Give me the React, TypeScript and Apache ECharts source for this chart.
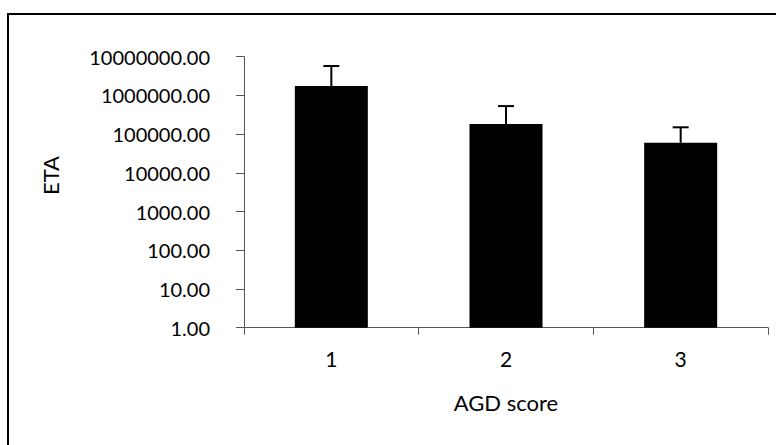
import React, { useEffect, useRef } from "react";
import * as echarts from "echarts";

const categories = ["1", "2", "3"];
const etaMeans = [1750000, 182000, 60000];
const etaErrorTop = [5750000, 530000, 150000];
const yTickLabelDigits = 2;

export default function App() {
  const ref = useRef<HTMLDivElement>(null);
  useEffect(() => {
    if (!ref.current) return;
    const chart = echarts.init(ref.current, null, { renderer: "svg" });
    const font = "Lato";
    const errData = categories.map((_, i) => [i, etaMeans[i], etaErrorTop[i]]);
    chart.setOption({
      animation: false,
      backgroundColor: "#fff",
      textStyle: { fontFamily: font, color: "#000" },
      grid: { left: 244, right: 8, top: 56.7, bottom: 117.3, containLabel: false },
      graphic: [
        {
          type: "rect",
          shape: { x: 8, y: 14, width: 820, height: 520 },
          style: { fill: "none", stroke: "#000", lineWidth: 2 },
          silent: true,
        },
        {
          type: "text",
          x: 50,
          y: 175.5,
          rotation: Math.PI / 2,
          style: {
            text: "ETA",
            font: `22px ${font}`,
            fill: "#000",
            align: "center",
            verticalAlign: "middle",
          },
        },
      ],
      xAxis: {
        type: "category",
        data: categories,
        name: "AGD score",
        nameLocation: "middle",
        nameGap: 64,
        nameTextStyle: { fontFamily: font, fontSize: 22, color: "#000", verticalAlign: "top" },
        axisLine: { lineStyle: { color: "#555", width: 1 } },
        axisTick: { show: true, length: 7, alignWithLabel: false, lineStyle: { color: "#555" } },
        axisLabel: { fontFamily: font, fontSize: 21, color: "#000", margin: 20 },
        splitLine: { show: false },
      },
      yAxis: {
        type: "log",
        logBase: 10,
        min: 1,
        max: 10000000,
        interval: 1,
        axisLine: { show: true, lineStyle: { color: "#555", width: 1 } },
        axisTick: { show: true, length: 8, inside: false, lineStyle: { color: "#555" } },
        axisLabel: {
          fontFamily: font,
          fontSize: 20,
          color: "#000",
          margin: 34,
          padding: [0, 0, 6, 0],
          formatter: (v: number) => Number(v).toFixed(yTickLabelDigits),
        },
        splitLine: { show: false },
        minorTick: { show: false },
      },
      series: [
        {
          type: "bar",
          data: etaMeans,
          barWidth: 73,
          itemStyle: { color: "#000" },
          z: 2,
        },
        {
          type: "custom",
          data: errData,
          encode: { x: 0, y: [1, 2] },
          z: 3,
          renderItem: (params: any, api: any) => {
            const x = api.value(0);
            const low = api.value(1);
            const high = api.value(2);
            const p0 = api.coord([x, low]);
            const p1 = api.coord([x, high]);
            const half = 8;
            return {
              type: "group",
              children: [
                {
                  type: "line",
                  shape: { x1: p0[0], y1: p0[1], x2: p1[0], y2: p1[1] },
                  style: { stroke: "#000", lineWidth: 2 },
                },
                {
                  type: "line",
                  shape: { x1: p1[0] - half, y1: p1[1], x2: p1[0] + half, y2: p1[1] },
                  style: { stroke: "#000", lineWidth: 2 },
                },
              ],
            };
          },
        },
      ],
    });
    return () => chart.dispose();
  }, []);
  return (
    <div
      ref={ref}
      style={{ position: "absolute", left: 0, top: 0, width: 776, height: 445 }}
    />
  );
}
